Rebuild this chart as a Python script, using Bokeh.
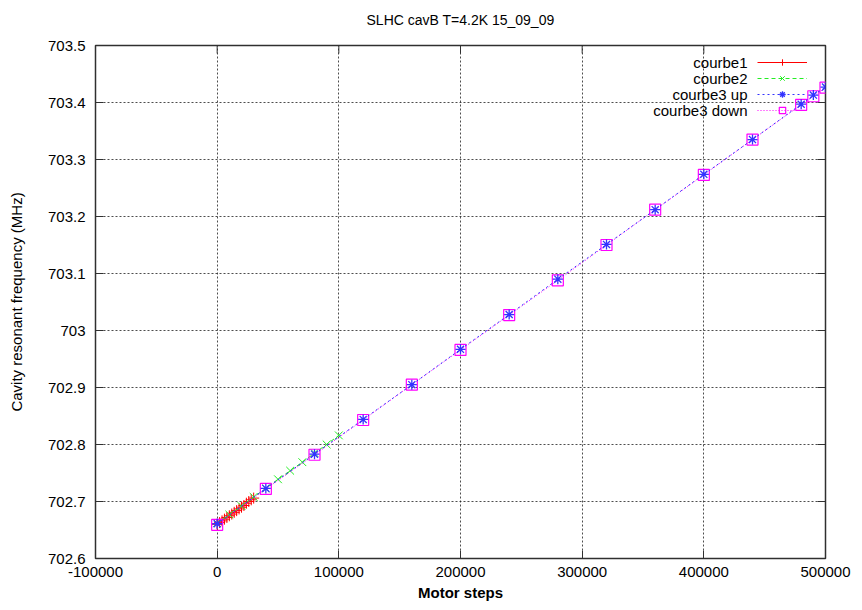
import math
from bokeh.plotting import figure
from bokeh.models import (FixedTicker, CustomJSTickFormatter, LinearAxis, Legend,
                          LegendItem, Label, Range1d, Title)
from bokeh.core.properties import value
from bokeh.embed import file_html
from bokeh.resources import INLINE

# ---------------- data ----------------
title_text = "SLHC cavB T=4.2K 15_09_09"
x_label = "Motor steps"
y_label = "Cavity resonant frequency (MHz)"

x_min, x_max = -100000, 500000
y_min, y_max = 702.6, 703.5
x_ticks = [-100000, 0, 100000, 200000, 300000, 400000, 500000]
y_ticks = [702.6, 702.7, 702.8, 702.9, 703.0, 703.1, 703.2, 703.3, 703.4, 703.5]

series_names = ["courbe1", "courbe2", "courbe3 up", "courbe3 down"]

steps1 = [0, 2000, 4000, 6000, 8000, 10000, 12000, 14000, 16000, 18000,
          20000, 22000, 24000, 26000, 28000, 30000]
freq1 = [702.660, 702.663, 702.666, 702.669, 702.672, 702.675, 702.678, 702.681,
         702.684, 702.687, 702.690, 702.693, 702.697, 702.700, 702.703, 702.706]

steps2 = [0, 10000, 20000, 30000, 40000, 50000, 60000, 70000, 80000, 90000, 100000]
freq2 = [702.662, 702.677, 702.692, 702.708, 702.723, 702.739, 702.754, 702.769,
         702.785, 702.800, 702.816]

steps3 = [0, 40000, 80000, 120000, 160000, 200000, 240000, 280000, 320000,
          360000, 400000, 440000, 480000, 490000, 500000]
freq3_up = [702.661, 702.723, 702.783, 702.844, 702.905, 702.967, 703.028, 703.090,
            703.151, 703.212, 703.274, 703.335, 703.397, 703.413, 703.427]
freq3_down = [702.659, 702.722, 702.782, 702.843, 702.905, 702.966, 703.027, 703.088,
              703.150, 703.212, 703.273, 703.335, 703.396, 703.411, 703.426]

FONT = "Liberation Sans"

# ---------------- figure ----------------
p = figure(width=862, height=610, output_backend="svg", toolbar_location=None,
           x_range=Range1d(x_min, x_max), y_range=Range1d(y_min, y_max),
           min_border_left=95, min_border_right=37, min_border_top=45,
           min_border_bottom=52, x_axis_location=None, y_axis_location=None,
           title=None)

# spacer (closest to the frame) and the real title above it
spacer = Title(text=" ", text_font_size="10px", standoff=0)
main_title = Title(text=title_text, align="center", text_font=FONT,
                   text_font_style="normal", text_font_size="14px",
                   text_color="#000000")
p.add_layout(spacer, "above")
p.add_layout(main_title, "above")

fmt_y = CustomJSTickFormatter(code="return String(Number(tick.toFixed(1)));")
fmt_x = CustomJSTickFormatter(code="return tick.toFixed(0);")


def style_axis(ax):
    ax.axis_line_color = None
    ax.major_tick_in = 8
    ax.major_tick_out = 0
    ax.minor_tick_line_color = None
    ax.major_tick_line_color = "#303030"
    ax.major_label_text_font = FONT
    ax.major_label_text_font_size = "15px"
    ax.major_label_text_color = "#000000"
    ax.axis_label_text_color = "#000000"


xb = LinearAxis(ticker=FixedTicker(ticks=x_ticks), formatter=fmt_x)
style_axis(xb)
xb.major_label_standoff = 8
xb.axis_label = x_label
xb.axis_label_text_font = FONT
xb.axis_label_text_font_style = "bold"
xb.axis_label_text_font_size = "15px"
xb.axis_label_standoff = 4
p.add_layout(xb, "below")

yl = LinearAxis(ticker=FixedTicker(ticks=y_ticks), formatter=fmt_y)
style_axis(yl)
yl.major_label_standoff = 10
yl.axis_label = y_label
yl.axis_label_text_font = FONT
yl.axis_label_text_font_style = "normal"
yl.axis_label_text_font_size = "15px"
yl.axis_label_standoff = 20
p.add_layout(yl, "left")

# mirror ticks on top and right edges (half of each dash is clipped by the frame)
p.scatter(x_ticks, [y_max] * len(x_ticks), marker="dash", angle=math.pi / 2,
          size=16, line_color="#303030", line_width=1)
p.scatter([x_max] * len(y_ticks), y_ticks, marker="dash",
          size=16, line_color="#303030", line_width=1)

p.xgrid.ticker = FixedTicker(ticks=x_ticks)
p.ygrid.ticker = FixedTicker(ticks=y_ticks)
for g in (p.xgrid, p.ygrid):
    g.grid_line_color = "#202020"
    g.grid_line_dash = "2 2"
    g.grid_line_alpha = 0.8
    g.grid_line_width = 1

p.outline_line_color = "#303030"
p.outline_line_width = 1.5
p.background_fill_color = "white"
p.border_fill_color = "white"

# ---------------- series ----------------
c1, c2, c3, c4 = "#ff0000", "#22ee22", "#3333ff", "#ff00ff"

l1 = p.line(steps1, freq1, line_color=c1, line_width=1)
m1 = p.scatter(steps1, freq1, marker="cross", size=11, line_color=c1, line_width=1)

l2 = p.line(steps2, freq2, line_color=c2, line_width=1, line_dash="4 3")
m2 = p.scatter(steps2, freq2, marker="x", size=11, line_color=c2, line_width=1)

l4 = p.line(steps3, freq3_down, line_color=c4, line_width=1, line_dash="1 2")
m4 = p.scatter(steps3, freq3_down, marker="square", size=11, line_color=c4,
               fill_color=None, line_width=1.2)

l3 = p.line(steps3, freq3_up, line_color=c3, line_width=1, line_dash="2 3")
m3 = p.scatter(steps3, freq3_up, marker="asterisk", size=10, line_color=c3, line_width=1.3)

# ---------------- legend (gnuplot style: text left, sample right) ----------------
items = [LegendItem(label=value(""), renderers=[l1, m1]),
         LegendItem(label=value(""), renderers=[l2, m2]),
         LegendItem(label=value(""), renderers=[l3, m3]),
         LegendItem(label=value(""), renderers=[l4, m4])]
leg = Legend(items=items, location=(662, 440), glyph_width=50, glyph_height=16,
             label_height=16, label_width=1, label_standoff=0, spacing=0,
             padding=0, margin=0, border_line_color=None, background_fill_alpha=0,
             label_text_font_size="15px")
p.add_layout(leg, "center")

for i, name in enumerate(series_names):
    p.add_layout(Label(x=652, y=496 - 16 * i, x_units="screen", y_units="screen",
                       text=name, text_align="right", text_baseline="middle",
                       text_font=FONT, text_font_size="15px", text_color="#000000"))

open("out.html", "w").write(file_html(p, INLINE))
